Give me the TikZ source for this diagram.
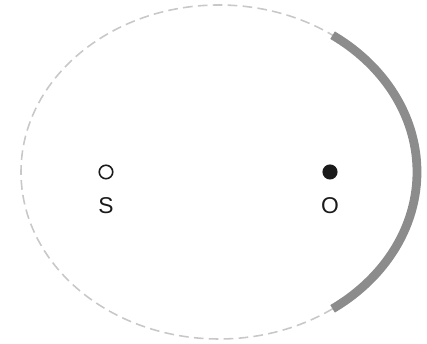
\documentclass[tikz,border=0pt]{standalone}
\usepackage{fontspec}
\setmainfont{Liberation Sans}
\usetikzlibrary{positioning}
\definecolor{corbit}{HTML}{C8C8C8}
\definecolor{carc}{HTML}{8C8C8C}
\definecolor{cdot}{HTML}{1A1A1A}
\tikzset{
  every picture/.style={font=\fontsize{13}{15}\selectfont},
  orbit/.style={draw=corbit, line width=0.9pt, dash pattern=on 5.5pt off 3pt},
  seen/.style={draw=carc, line width=5pt},
  pt/.style={circle, draw=cdot, line width=0.9pt, minimum size=0.27cm, inner sep=0pt},
  lbl/.style={text=cdot, inner sep=1pt},
}
\begin{document}
\begin{tikzpicture}
  \useasboundingbox (0,0) rectangle (8.54,6.88);
  % orbit
  \coordinate (c) at (4.38,3.44);
  \draw[orbit] (c) ellipse[x radius=3.96cm, y radius=3.34cm];
  \draw[seen] (c) ++(-55:3.96cm and 3.34cm) arc[start angle=-55, end angle=55, x radius=3.96cm, y radius=3.34cm];
  % points
  \node[pt, fill=white] (s) at (2.12,3.44) {};
  \node[pt, fill=cdot] (o) at (6.60,3.44) {};
  \node[lbl, below=0.32cm of s] (slbl) {S};
  \node[lbl, below=0.32cm of o] (olbl) {O};
\end{tikzpicture}
\end{document}
